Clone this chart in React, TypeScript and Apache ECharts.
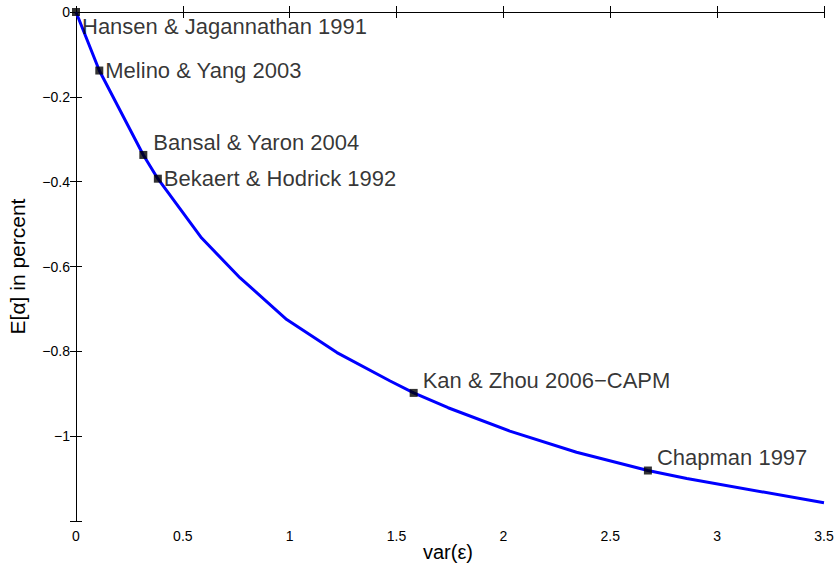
import React, { useEffect, useRef } from "react";
import * as echarts from "echarts";

// Frontier curve
const curveX = [0, 0.109, 0.315, 0.383, 0.588, 0.768, 0.986, 1.221, 1.47, 1.58, 1.741, 2.03, 2.342, 2.676, 2.858, 3.5];
const curveY = [0, -0.138, -0.337, -0.393, -0.533, -0.627, -0.725, -0.803, -0.87, -0.898, -0.933, -0.988, -1.038, -1.081, -1.1, -1.157];

// Studies marked on the curve
const studyNames = [
  "Hansen & Jagannathan 1991",
  "Melino & Yang 2003",
  "Bansal & Yaron 2004",
  "Bekaert & Hodrick 1992",
  "Kan & Zhou 2006\u2212CAPM",
  "Chapman 1997",
];
const studyX = [0, 0.109, 0.315, 0.383, 1.58, 2.676];
const studyY = [0, -0.138, -0.337, -0.393, -0.898, -1.081];
const labelOffsets: [number, number][] = [[0, 14], [0, 0], [4, -12], [0, 0], [3, -12], [3, -13]];

const xTicks = { min: 0, max: 3.5, interval: 0.5 };
const yTicks = { min: -1.2, max: 0, interval: 0.2 };
const xTitle = "var(\u03b5)";
const yTitle = "E[\u03b1] in percent";

const FONT = "'Liberation Sans', Arial, Helvetica, sans-serif";

const fmt = (v: number) => String(Number(v.toFixed(2))).replace("-", "\u2212");

export default function App() {
  const ref = useRef<HTMLDivElement>(null);
  useEffect(() => {
    if (!ref.current) return;
    const chart = echarts.init(ref.current, undefined, { renderer: "svg" });
    const axisLine = { show: true, lineStyle: { color: "#000", width: 1 } };
    const axisTick = { show: true, inside: true, length: 6, lineStyle: { color: "#000", width: 1 } };
    chart.setOption({
      animation: false,
      backgroundColor: "#fff",
      grid: { left: 76, top: 12, right: 12, bottom: 46, containLabel: false, outerBoundsMode: "none" },
      graphic: [
        {
          type: "text",
          left: 450 - 27,
          top: 542,
          style: { text: xTitle, fill: "#000", fontSize: 20, fontFamily: FONT },
        },
      ],
      xAxis: [
        {
          type: "value",
          position: "bottom",
          ...xTicks,
          axisLine,
          axisTick,
          splitLine: { show: false },
          axisLabel: { color: "#000", fontSize: 14, fontFamily: FONT, margin: 8, formatter: (v: number) => fmt(v) },
        },
        {
          type: "value",
          position: "top",
          ...xTicks,
          axisLine,
          axisTick,
          splitLine: { show: false },
          axisLabel: { show: false },
        },
      ],
      yAxis: [
        {
          type: "value",
          position: "left",
          ...yTicks,
          axisLine,
          axisTick,
          splitLine: { show: false },
          axisLabel: {
            color: "#000",
            fontSize: 14,
            fontFamily: FONT,
            margin: 6,
            formatter: (v: number) => (Math.abs(v - yTicks.min) < 1e-6 ? "" : fmt(v)),
          },
          name: yTitle,
          nameLocation: "middle",
          nameGap: 48,
          nameRotate: 90,
          nameTextStyle: { color: "#000", fontSize: 21, fontFamily: FONT },
        },
        {
          type: "value",
          position: "right",
          ...yTicks,
          axisLine,
          axisTick,
          splitLine: { show: false },
          axisLabel: { show: false },
        },
      ],
      series: [
        {
          type: "line",
          data: curveX.map((x, i) => [x, curveY[i]]),
          showSymbol: false,
          lineStyle: { color: "#0000ff", width: 3 },
          z: 2,
        },
        {
          type: "scatter",
          symbol: "rect",
          symbolSize: 8,
          itemStyle: { color: "#000" },
          z: 3,
          data: studyNames.map((n, i) => ({
            name: n,
            value: [studyX[i], studyY[i]],
            label: { offset: labelOffsets[i] },
          })),
          label: {
            show: true,
            position: "right",
            distance: 2,
            formatter: (p: any) => p.name,
            color: "#000",
            fontSize: 22,
            fontFamily: FONT,
          },
        },
      ],
    });
    return () => chart.dispose();
  }, []);
  return <div ref={ref} style={{ position: "absolute", left: 0, top: 0, width: 836, height: 567 }} />;
}
